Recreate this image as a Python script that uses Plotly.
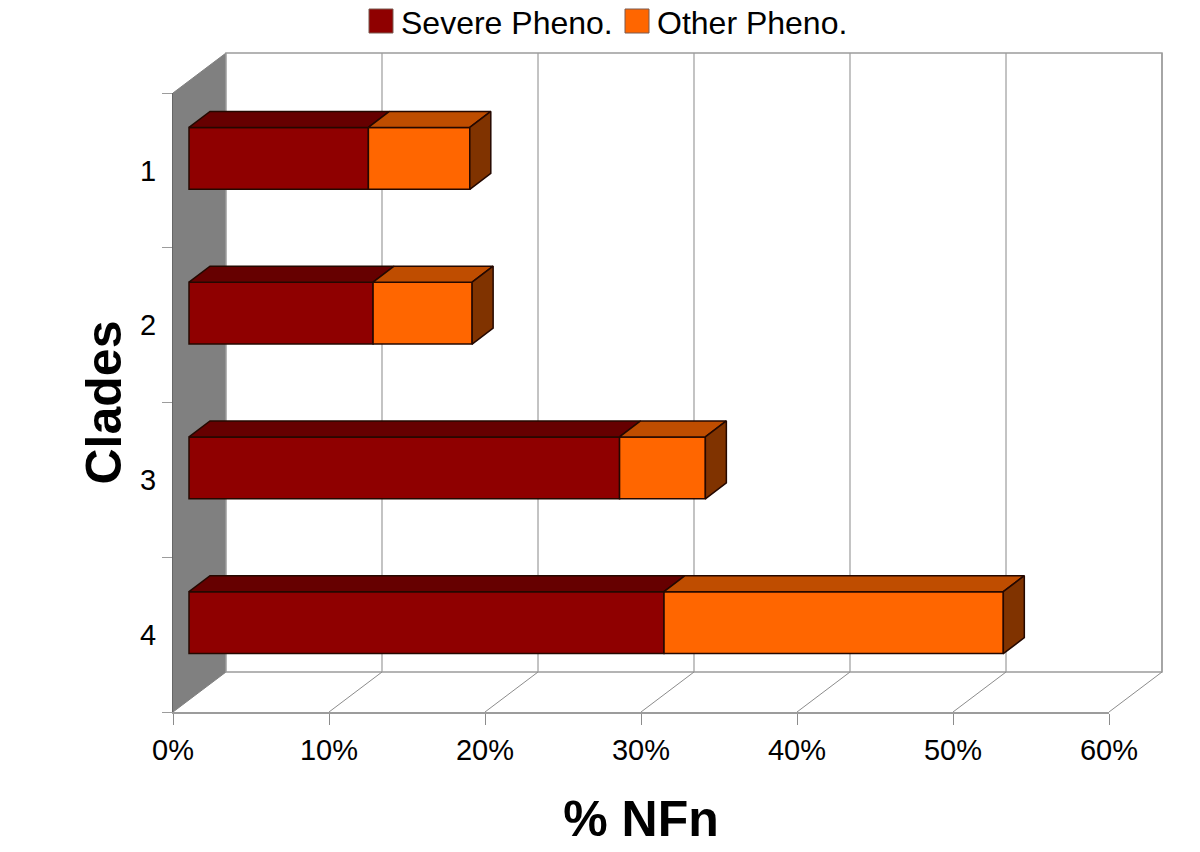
import plotly.graph_objects as go

clades = [1, 2, 3, 4]
clade_labels = ["1", "2", "3", "4"]
severe = [11.5, 11.8, 27.6, 30.45]
other = [6.5, 6.35, 5.5, 21.75]
x_ticks = [0, 10, 20, 30, 40, 50, 60]
x_labels = ["0%", "10%", "20%", "30%", "40%", "50%", "60%"]
series_names = ["Severe Pheno.", "Other Pheno."]

# Geometry of the pseudo-3D box, in page pixels
W, H = 1200, 852
L, R, T, B = 173, 1109, 93, 712
PX_X = (R - L) / 60.0
PX_Y = (B - T) / 4.0
wall_dx, wall_dy = 53, 40
bar_in_x, bar_in_y = 16, 12
bar_dx, bar_dy = 21, 16

GRID = "#9c9c9c"
EDGE = "#240800"
SEV, SEV_TOP = "#8f0000", "#660000"
OTH, OTH_TOP, OTH_SIDE = "#ff6600", "#bf4d00", "#803300"


def px(p):
    return (p - L) / (R - L)


def py(p):
    return (B - p) / (B - T)


shapes = []


def poly(points, fill=None, color=GRID, width=1.5):
    path = "M" + " L".join(f"{px(a):.5f},{py(b):.5f}" for a, b in points) + (" Z" if fill else "")
    shapes.append(dict(type="path", xref="paper", yref="paper", path=path, layer="below",
                       fillcolor=fill or "rgba(0,0,0,0)", line=dict(color=color, width=width)))


# Walls
poly([(L, T), (L + wall_dx, T - wall_dy), (L + wall_dx, B - wall_dy), (L, B)], "#808080", "#808080", 1)
poly([(L + wall_dx, T - wall_dy), (R + wall_dx, T - wall_dy), (R + wall_dx, B - wall_dy), (L + wall_dx, B - wall_dy)],
     "#ffffff", GRID, 1.5)
for v in x_ticks[1:]:
    xp = L + v * PX_X
    poly([(xp + wall_dx, T - wall_dy), (xp + wall_dx, B - wall_dy)], None, GRID, 1.2)
    poly([(xp + wall_dx, B - wall_dy), (xp, B)], None, "#8c8c8c", 1)

# Legend swatches
for x0, c in zip((369, 625), (SEV, OTH)):
    poly([(x0, 9), (x0 + 24, 9), (x0 + 24, 33), (x0, 33)], c, "#7a5a50", 1)

annotations = [
    dict(text=t, xref="paper", yref="paper", x=px(x0), y=py(23), xanchor="left", yanchor="middle",
         showarrow=False, font=dict(family="Liberation Sans", size=32, color="#000000"))
    for t, x0 in zip(series_names, (399, 655))
]

# Data-space depth offsets
ox, oy = bar_in_x / PX_X, bar_in_y / PX_Y
dx, dy = bar_dx / PX_X, bar_dy / PX_Y
half = 31 / PX_Y

fig = go.Figure()
ypos = [c - oy for c in clades]
fig.add_trace(go.Bar(y=ypos, x=severe, base=[ox] * 4, orientation="h", width=0.4, name=series_names[0],
                     marker=dict(color=SEV, line=dict(color=EDGE, width=1.5)), showlegend=False))
fig.add_trace(go.Bar(y=ypos, x=other, base=[ox + s for s in severe], orientation="h", width=0.4, name=series_names[1],
                     marker=dict(color=OTH, line=dict(color=EDGE, width=1.5)), showlegend=False))


def face(xs, ys, fill):
    fig.add_trace(go.Scatter(x=xs, y=ys, mode="lines", fill="toself", fillcolor=fill,
                             line=dict(color=EDGE, width=1.5), showlegend=False, hoverinfo="skip"))


for yc, s, o in zip(ypos, severe, other):
    top = yc - half
    bot = yc + half
    x0, x1, x2 = ox, ox + s, ox + s + o
    face([x0, x1, x1 + dx, x0 + dx, x0], [top, top, top - dy, top - dy, top], SEV_TOP)
    face([x1, x2, x2 + dx, x1 + dx, x1], [top, top, top - dy, top - dy, top], OTH_TOP)
    face([x2, x2 + dx, x2 + dx, x2, x2], [top, top - dy, bot - dy, bot, top], OTH_SIDE)

fig.update_layout(
    width=W, height=H, barmode="overlay", showlegend=False,
    margin=dict(l=L, r=W - R, t=T, b=H - B, pad=0),
    paper_bgcolor="#ffffff", plot_bgcolor="rgba(0,0,0,0)",
    font=dict(family="Liberation Sans", color="#000000"),
    shapes=shapes, annotations=annotations,
)
fig.update_xaxes(
    range=[0, 60], tickmode="array", tickvals=x_ticks, ticktext=x_labels, ticks="outside", ticklen=11,
    tickcolor="#8c8c8c", tickwidth=1.2, showgrid=False, zeroline=False, showline=True, linecolor=GRID, linewidth=1.5,
    tickfont=dict(size=29), title=dict(text="<b>% NFn</b>", font=dict(size=50), standoff=36),
)
fig.update_yaxes(
    range=[4.5, 0.5], tickmode="array", tickvals=clades, ticktext=clade_labels, ticks="outside", ticklen=10,
    tickcolor="rgba(0,0,0,0)", showgrid=False, zeroline=False, showline=True, linecolor="#666666", linewidth=1.2,
    tickfont=dict(size=29), title=dict(text="<b>Clades</b>", font=dict(size=50), standoff=2),
    minor=dict(tickmode="array", tickvals=[0.5, 1.5, 2.5, 3.5, 4.5], ticks="outside", ticklen=10,
               tickcolor=GRID, tickwidth=1.2, showgrid=False),
)
fig.write_html("out.html", config=dict(displayModeBar=False), post_script="document.body.style.margin='0';")
